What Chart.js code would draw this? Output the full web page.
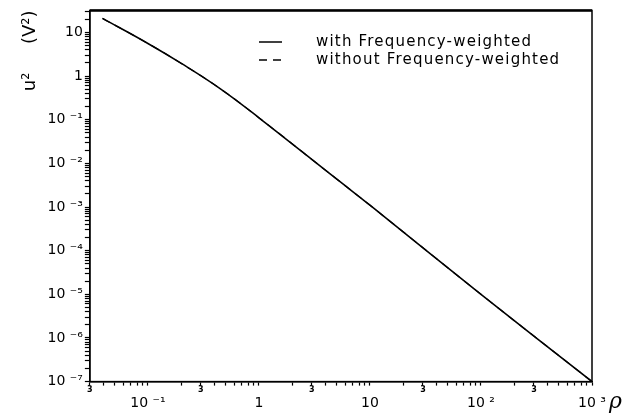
<!DOCTYPE html>
<html>
<head>
<meta charset="utf-8">
<script src="https://cdn.jsdelivr.net/npm/chart.js@4/dist/chart.umd.min.js"></script>
<style>
  html, body { margin: 0; padding: 0; background: #fff; }
  #wrap { width: 640px; height: 417px; }
</style>
</head>
<body>
<div id="wrap"><canvas id="myChart" width="640" height="417"></canvas></div>
<script>
// values
const rho = [0.039, 0.1, 0.2, 0.45, 1, 5, 10, 100, 1000];
const withWeighted = [21, 5.6, 1.95, 0.51, 0.111, 4.4e-3, 1.1e-3, 1.0e-5, 1e-7];
const withoutWeighted = [21, 5.6, 1.95, 0.51, 0.111, 4.4e-3, 1.1e-3, 1.0e-5, 1e-7];
const seriesLabels = ['with Frequency-weighted', 'without Frequency-weighted'];

const xTickValues = [0.1, 1, 10, 100, 1000];
const xTickLabels = ['10 \u207B\u00B9', '1', '10', '10 \u00B2', '10 \u00B3'];
const xMinorValues = [0.03, 0.3, 3, 30, 300];
const xMinorLabel = '3';
const yTickValues = [10, 1, 0.1, 1e-2, 1e-3, 1e-4, 1e-5, 1e-6, 1e-7];
const yTickLabels = ['10', '1', '10 \u207B\u00B9', '10 \u207B\u00B2', '10 \u207B\u00B3', '10 \u207B\u2074', '10 \u207B\u2075', '10 \u207B\u2076', '10 \u207B\u2077'];

const xMin = 0.03, xMax = 1000, yMin = 1e-7, yMax = 32;
const FONT = 'DejaVu Sans';

function logTicks(min, max) {
    const out = [];
    for (let e = -8; e <= 3; e++) {
        for (let m = 1; m <= 9; m++) {
            const v = +(m * Math.pow(10, e)).toPrecision(3);
            if (v >= min * 0.999 && v <= max * 1.001) out.push({ value: v, major: m === 1 });
        }
    }
    return out;
}

function near(a, b) { return Math.abs(Math.log10(a) - Math.log10(b)) < 1e-6; }

function labelFor(v, values, labels) {
    const i = values.findIndex(t => near(t, v));
    return i >= 0 ? labels[i] : '';
}

const framePlugin = {
    id: 'frame',
    afterDatasetsDraw(chart) {
        const { ctx, chartArea: a } = chart;
        ctx.save();
        ctx.strokeStyle = '#000';
        ctx.lineWidth = 1.5;
        ctx.strokeRect(a.left, a.top, a.right - a.left, a.bottom - a.top);
        ctx.lineWidth = 2.5;
        ctx.beginPath();
        ctx.moveTo(a.left, a.top);
        ctx.lineTo(a.right, a.top);
        ctx.stroke();

        // legend
        ctx.font = '15px ' + FONT;
        ctx.letterSpacing = '1.2px';
        ctx.fillStyle = '#000';
        ctx.textBaseline = 'middle';
        chart.data.datasets.forEach((ds, i) => {
            const y = 42 + i * 18;
            ctx.beginPath();
            ctx.lineWidth = 1.5;
            ctx.setLineDash(ds.borderDash || []);
            ctx.moveTo(259, y);
            ctx.lineTo(282, y);
            ctx.stroke();
            ctx.setLineDash([]);
            ctx.fillText(ds.label, 316, y);
        });
        ctx.letterSpacing = '0px';

        // axis symbol
        ctx.font = 'italic 22px DejaVu Serif';
        ctx.textBaseline = 'alphabetic';
        ctx.fillText('\u03C1', 609, 408);
        ctx.restore();
    }
};

const config = {
    type: 'line',
    data: {
        labels: rho,
        datasets: [{
            label: seriesLabels[0],
            data: rho.map((x, i) => ({ x: x, y: withWeighted[i] })),
            borderColor: '#000',
            borderWidth: 1.6,
            pointRadius: 0,
            tension: 0.4,
            fill: false
        }, {
            label: seriesLabels[1],
            data: rho.map((x, i) => ({ x: x, y: withoutWeighted[i] })),
            borderColor: '#000',
            borderWidth: 1.2,
            borderDash: [8, 6],
            pointRadius: 0,
            tension: 0.4,
            fill: false
        }]
    },
    options: {
        animation: { duration: 0 },
        responsive: false,
        layout: { padding: { top: 10, right: 48, left: 20, bottom: 5 } },
        plugins: { legend: { display: false }, tooltip: { enabled: false } },
        scales: {
            x3: {
                type: 'logarithmic',
                position: 'bottom',
                weight: 0,
                min: xMin, max: xMax,
                afterBuildTicks: s => { s.ticks = logTicks(xMin, xMax); },
                grid: { display: true, drawOnChartArea: false, drawTicks: true, tickLength: 4, color: '#000', tickWidth: 1.2 },
                border: { display: true, color: '#000', width: 1.5 },
                ticks: {
                    autoSkip: false, maxRotation: 0, padding: 0, color: '#000',
                    font: { family: FONT, size: 8, weight: 'bold' },
                    callback: v => xMinorValues.some(t => near(t, v)) ? xMinorLabel : ''
                }
            },
            x: {
                type: 'logarithmic',
                position: 'bottom',
                weight: 1,
                min: xMin, max: xMax,
                afterBuildTicks: s => { s.ticks = xTickValues.map(v => ({ value: v, major: true })); },
                grid: { display: false, drawTicks: false },
                border: { display: false },
                ticks: {
                    autoSkip: false, maxRotation: 0, padding: 0, color: '#000',
                    font: { family: FONT, size: 14 },
                    callback: v => labelFor(v, xTickValues, xTickLabels)
                }
            },
            y: {
                type: 'logarithmic',
                min: yMin, max: yMax,
                afterBuildTicks: s => { s.ticks = logTicks(yMin, yMax); },
                grid: { display: true, drawOnChartArea: false, drawTicks: true, tickLength: 5, color: '#000', tickWidth: 1.2 },
                border: { display: true, color: '#000', width: 1.5 },
                title: {
                    display: true, text: 'u\u00B2     (V\u00B2)', align: 'end', color: '#000',
                    font: { family: FONT, size: 18 }, padding: { top: 0, bottom: 4 }
                },
                ticks: {
                    autoSkip: false, padding: 2, color: '#000',
                    font: { family: FONT, size: 14 },
                    callback: v => labelFor(v, yTickValues, yTickLabels)
                }
            }
        }
    },
    plugins: [framePlugin]
};

const ctx = document.getElementById('myChart').getContext('2d');
window.myChart = new Chart(ctx, config);
</script>
</body>
</html>
